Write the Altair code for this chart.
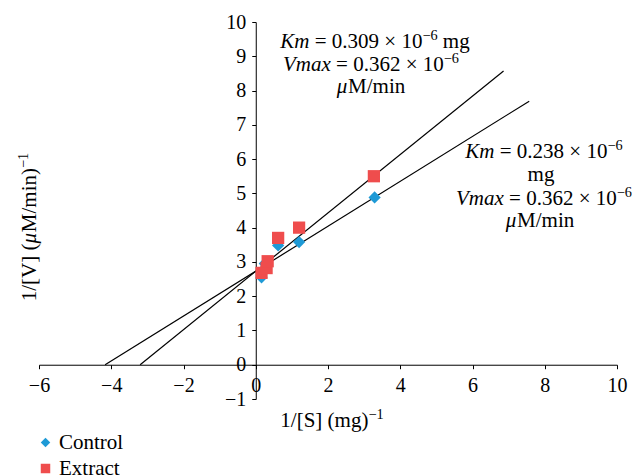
import altair as alt
import pandas as pd

# ---------------- data ----------------
control_x = [0.16, 0.25, 0.62, 1.20, 3.29]
control_y = [2.55, 2.95, 3.48, 3.58, 4.88]
extract_x = [0.16, 0.30, 0.33, 0.62, 1.20, 3.27]
extract_y = [2.68, 2.82, 3.02, 3.70, 4.00, 5.50]

# trendline end points
control_line_x = [-4.17, 7.57]
control_line_y = [0.0, 7.69]
extract_line_x = [-3.20, 6.86]
extract_line_y = [0.0, 8.57]

series_names = ["Control", "Extract"]
series_colors = ["#1E9AD6", "#EF4D4D"]
series_shapes = ["diamond", "square"]

x_ticks = [-6, -4, -2, 0, 2, 4, 6, 8, 10]
y_ticks = [-1, 0, 1, 2, 3, 4, 5, 6, 7, 8, 9, 10]

# ---------------- tables ----------------
pts = pd.DataFrame({
    "x": control_x + extract_x,
    "y": control_y + extract_y,
    "series": ["Control"] * len(control_x) + ["Extract"] * len(extract_x),
})
lines = pd.DataFrame({
    "x": control_line_x + extract_line_x,
    "y": control_line_y + extract_line_y,
    "series": ["Control"] * 2 + ["Extract"] * 2,
})

W, H = 578, 377
FONT = "Liberation Serif"
TICK_FS = 20

x_axis = alt.Axis(values=x_ticks, title=None, grid=False, domainColor="black",
                  tickColor="black", tickSize=4, labelFont=FONT, labelFontSize=TICK_FS,
                  labelColor="black", labelPadding=7, offset=-(H * 1 / 11),
                  labelFlush=False, labelOverlap=False)
y_axis = alt.Axis(values=y_ticks, title=None, grid=False, domainColor="black",
                  tickColor="black", tickSize=4, labelFont=FONT, labelFontSize=TICK_FS,
                  labelColor="black", labelPadding=6, offset=-(W * 6 / 16),
                  labelFlush=False, labelOverlap=False)
x_enc = alt.X("x:Q", scale=alt.Scale(domain=[-6, 10], nice=False, zero=False), axis=x_axis)
y_enc = alt.Y("y:Q", scale=alt.Scale(domain=[-1, 10], nice=False, zero=False), axis=y_axis)

trend = alt.Chart(lines).mark_line(color="black", strokeWidth=1.2).encode(
    x=x_enc, y=y_enc, detail="series:N")

legend = alt.Legend(title=None, orient="none", legendX=-4, legendY=410,
                    labelFont=FONT, labelFontSize=21, labelColor="black",
                    symbolSize=90, rowPadding=4, labelOffset=3)
points = alt.Chart(pts).mark_point(filled=True, opacity=1, size=150).encode(
    x=x_enc, y=y_enc,
    color=alt.Color("series:N", scale=alt.Scale(domain=series_names, range=series_colors),
                    legend=legend),
    shape=alt.Shape("series:N", scale=alt.Scale(domain=series_names, range=series_shapes),
                    legend=legend),
)

# ---------------- rich text helper ----------------
REG = {' ': 250, '.': 250, '=': 564, '×': 564, 'm': 778, 'g': 500, 'M': 889,
       '/': 278, 'i': 278, 'n': 500, '−': 564, '[': 333, ']': 333, '(': 333, ')': 333,
       'V': 722, 'S': 556}
ITA = {'K': 667, 'm': 722, 'V': 611, 'a': 500, 'x': 444, 'μ': 540}
SUP = 0.68


def seg_width(text, style, size):
    table = ITA if style == "it" else REG
    fs = size * SUP if style == "sup" else size
    return sum(table.get(c, 500) for c in text) / 1000 * fs


def rich(segments, cx, cy, size, angle=0):
    # segments: (text, style, space_before) -- no leading/trailing spaces inside texts
    sp = 0.25 * size
    total = sum(seg_width(t, s, size) + (sp if g else 0) for t, s, g in segments)
    pos = -total / 2
    layers = []
    for t, s, g in segments:
        if g:
            pos += sp
        fs = size * SUP if s == "sup" else size
        kw = dict(align="left", baseline="alphabetic", font=FONT, fontSize=fs,
                  color="black", dx=pos, dy=(-0.4 * size if s == "sup" else 0))
        if s == "it":
            kw["fontStyle"] = "italic"
        if angle:
            kw["angle"] = angle
        layers.append(
            alt.Chart(pd.DataFrame({"t": [t]})).mark_text(**kw).encode(
                text="t:N", x=alt.value(cx), y=alt.value(cy)))
        pos += seg_width(t, s, size)
    return layers


ANN = 21
texts = []
# Extract annotation (upper)
texts += rich([("Km", "it", 0), ("= 0.309 × 10", "r", 1), ("−6", "sup", 0), ("mg", "r", 1)], 336, 26, ANN)
texts += rich([("Vmax", "it", 0), ("= 0.362 × 10", "r", 1), ("−6", "sup", 0)], 332, 49, ANN)
texts += rich([("μ", "it", 0), ("M/min", "r", 0)], 332, 71, ANN)
# Control annotation (right)
texts += rich([("Km", "it", 0), ("= 0.238 × 10", "r", 1), ("−6", "sup", 0)], 505, 136, ANN)
texts += rich([("mg", "r", 0)], 502, 159, ANN)
texts += rich([("Vmax", "it", 0), ("= 0.362 × 10", "r", 1), ("−6", "sup", 0)], 505, 183, ANN)
texts += rich([("μ", "it", 0), ("M/min", "r", 0)], 501, 205, ANN)
# axis titles
texts += rich([("1/[S]", "r", 0), ("(mg)", "r", 1), ("−1", "sup", 0)], 293, 405, 21)
texts += rich([("1/[V]", "r", 0), ("(", "r", 1), ("μ", "it", 0), ("M/min)", "r", 0), ("−1", "sup", 0)],
              -3, 205, 21, angle=270)

chart = alt.layer(trend, points, *texts).properties(
    width=W, height=H,
    autosize=alt.AutoSizeParams(type="none"),
    padding={"left": 39, "top": 22, "right": 15, "bottom": 77},
).configure(background="white", font=FONT).configure_view(stroke=None).configure_axis(
    labelFont=FONT).configure_legend(labelFont=FONT)

chart.save("out.html", embed_options={"renderer": "svg", "actions": False})
